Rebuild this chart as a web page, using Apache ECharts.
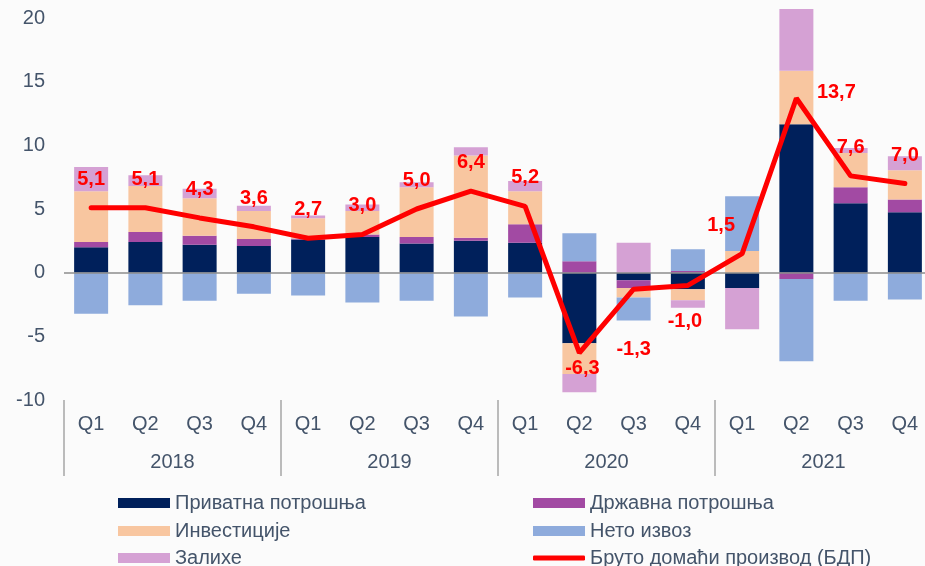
<!DOCTYPE html>
<html>
<head>
<meta charset="utf-8">
<script src="https://cdn.jsdelivr.net/npm/echarts@6/dist/echarts.min.js"></script>
<style>
  html, body { margin: 0; padding: 0; background: #fbfbfb; }
  #chart { width: 925px; height: 566px; }
</style>
</head>
<body>
<div id="chart"></div>
<script>
// quarters and years on the two-level x axis
const quarters = ['Q1', 'Q2', 'Q3', 'Q4', 'Q1', 'Q2', 'Q3', 'Q4', 'Q1', 'Q2', 'Q3', 'Q4', 'Q1', 'Q2', 'Q3', 'Q4'];
const years = ['2018', '2019', '2020', '2021'];

// contributions to GDP growth, pp
const privateCons = [2.0, 2.4, 2.2, 2.1, 2.6, 2.8, 2.3, 2.5, 2.35, -5.55, -0.6, -1.3, -1.2, 11.65, 5.45, 4.75];
const govCons = [0.4, 0.8, 0.7, 0.55, 0.08, 0.2, 0.5, 0.25, 1.45, 0.9, -0.6, 0.13, 0.0, -0.5, 1.25, 1.0];
const investment = [4.0, 3.6, 2.95, 2.2, 1.6, 1.85, 3.9, 6.45, 2.6, -2.4, -0.75, -0.87, 1.7, 4.2, 2.7, 2.3];
const netExport = [-3.23, -2.55, -2.2, -1.65, -1.8, -2.35, -2.2, -3.45, -1.95, 2.2, -1.8, 1.7, 4.3, -6.45, -2.2, -2.1];
const inventories = [1.9, 0.85, 0.75, 0.4, 0.2, 0.5, 0.4, 0.65, 0.8, -1.45, 2.35, -0.58, -3.25, 4.85, 0.4, 1.1];
const gdp = [5.1, 5.1, 4.3, 3.6, 2.7, 3.0, 5.0, 6.4, 5.2, -6.3, -1.3, -1.0, 1.5, 13.7, 7.6, 7.0];

const textColor = '#44546a';
const gdpName = 'Бруто домаћи производ (БДП)';
const chart = echarts.init(document.getElementById('chart'));

function barSeries(name, data, color, extra) {
  return Object.assign({
    name: name,
    type: 'bar',
    stack: 'total',
    barWidth: 34,
    clip: false,
    itemStyle: { color: color },
    data: data
  }, extra || {});
}

// one legend per entry so the two columns line up like the original
function legendItem(name, left, top) {
  const isLine = name === gdpName;
  return {
    left: left, top: top,
    padding: 0,
    itemWidth: 52, itemHeight: isLine ? 5 : 10,
    icon: isLine ? 'roundRect' : 'rect',
    itemGap: 0,
    textStyle: { color: textColor, fontSize: 20, fontFamily: 'Liberation Sans' },
    data: [name]
  };
}

// a few GDP labels sit off the default "above" spot
const labelTweaks = {
  9: { position: 'bottom', distance: 5, offset: [3, 0] },
  10: { position: 'bottom', distance: 50 },
  11: { position: 'bottom', distance: 26, offset: [-3, 0] },
  12: { position: 'top', distance: 18, offset: [-21, 0] },
  13: { position: 'right', distance: 20, offset: [0, -6] }
};

const gdpData = gdp.map((v, i) => {
  const item = { value: v };
  if (labelTweaks[i]) item.label = labelTweaks[i];
  return item;
});

chart.setOption({
  backgroundColor: '#fbfbfb',
  animation: false,
  grid: { left: 64, width: 868, top: 18, bottom: 166, outerBoundsMode: 'none' },
  legend: [
    legendItem('Приватна потрошња', 118, 493),
    legendItem('Инвестиције', 118, 521),
    legendItem('Залихе', 118, 548),
    legendItem('Државна потрошња', 533, 493),
    legendItem('Нето извоз', 533, 521),
    legendItem(gdpName, 533, 548)
  ],
  xAxis: [
    {
      type: 'category',
      data: quarters,
      position: 'bottom',
      axisLine: { show: false, onZero: false },
      axisTick: {
        show: true, length: 76,
        interval: (i) => i % 4 === 0,
        lineStyle: { color: '#a6a6a6', width: 1.5 }
      },
      axisLabel: { color: textColor, fontSize: 20, margin: 14, interval: 0, fontFamily: 'Liberation Sans' }
    },
    {
      type: 'category',
      data: years,
      position: 'bottom',
      offset: 38,
      axisLine: { show: false, onZero: false },
      axisTick: { show: false },
      axisLabel: { color: textColor, fontSize: 20, margin: 14, fontFamily: 'Liberation Sans' }
    }
  ],
  yAxis: {
    type: 'value',
    min: -10, max: 20, interval: 5,
    axisLine: { show: false },
    axisTick: { show: false },
    splitLine: { show: false },
    axisLabel: { color: textColor, fontSize: 20, margin: 19, fontFamily: 'Liberation Sans' }
  },
  series: [
    barSeries('Приватна потрошња', privateCons, '#00205b', {
      markLine: {
        silent: true, symbol: 'none',
        label: { show: false },
        lineStyle: { color: '#8c8c8c', width: 1.5, type: 'solid' },
        data: [{ yAxis: 0 }]
      }
    }),
    barSeries('Државна потрошња', govCons, '#a24aa3'),
    barSeries('Инвестиције', investment, '#f8c6a0'),
    barSeries('Нето извоз', netExport, '#8eabdc'),
    barSeries('Залихе', inventories, '#d5a1d4'),
    {
      name: gdpName,
      type: 'line',
      symbol: 'circle',
      symbolSize: 1,
      showAllSymbol: true,
      z: 5,
      lineStyle: { color: '#ff0000', width: 5, cap: 'round' },
      itemStyle: { color: '#ff0000' },
      label: {
        show: true,
        position: 'top',
        distance: 18,
        color: '#ff0000',
        fontSize: 20,
        fontWeight: 'bold',
        fontFamily: 'Liberation Sans',
        formatter: (p) => p.value.toFixed(1).replace('.', ',')
      },
      data: gdpData
    }
  ]
});
</script>
</body>
</html>
